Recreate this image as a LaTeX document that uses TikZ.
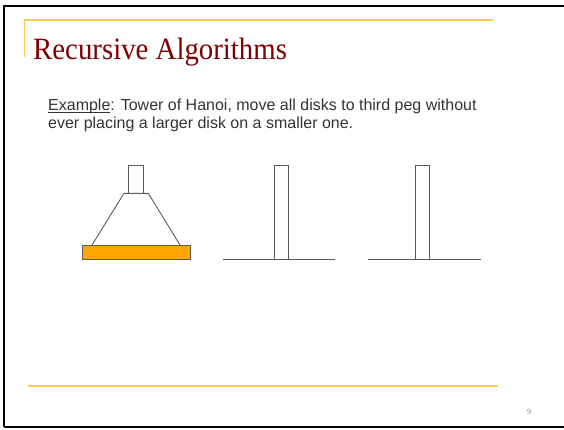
\documentclass[tikz,border=0pt]{standalone}
\usepackage{fontspec}
\setmainfont{Liberation Serif}
\newfontfamily\bodyfont{Liberation Sans}
\definecolor{titlered}{RGB}{128,0,0}
\definecolor{rulegold}{RGB}{255,200,90}
\definecolor{diskorange}{RGB}{255,165,0}
\definecolor{bodygray}{RGB}{51,51,51}
\definecolor{shapegray}{RGB}{90,90,90}
\newcommand{\ulword}[1]{\setbox0\hbox{#1}\rlap{\rule[-1.8pt]{\wd0}{0.7pt}}#1}
\begin{document}
\begin{tikzpicture}[x=1pt,y=-1pt,
  rule/.style={draw=rulegold,line width=1.6pt},
  outline/.style={draw=shapegray,line width=0.9pt},
  bodytext/.style={anchor=base west,inner sep=0pt,text=bodygray,font=\bodyfont\fontsize{16}{18}\selectfont},
]
\useasboundingbox (0,0) rectangle (564,429);
% frame
\draw[line width=2.6pt,black] (3.8,427) -- (3.8,5.8) -- (570,5.8);
\draw[line width=2.6pt,black] (3.8,427) -- (570,427);
% top rules
\draw[rule] (24.5,57) -- (24.5,20) -- (493,20);
% title
\node[anchor=base west,inner sep=0pt,text=titlered,font=\fontsize{31}{36}\selectfont] (title) at (33,59) {\scalebox{0.93}[1]{Recursive Algorithms}};
% body text
\node[bodytext] (line1) at (48,110.5) {\ulword{Example}: Tower of Hanoi, move all disks to third peg without};
\node[bodytext] (line2) at (48,128) {ever placing a larger disk on a smaller one.};
% peg 1 with disk and cone
\draw[outline,fill=diskorange] (82,245) rectangle (190,259);
\node[coordinate] (disk) at (136,252) {};
\draw[outline] (92,245) -- (124,193.3) -- (148.3,193.3) -- (180,245);
\draw[outline] (128.3,165) rectangle (143.3,193.3);
% peg 2
\draw[outline] (222.7,259) -- (335.3,259);
\draw[outline] (274.3,165) rectangle (288.7,259);
% peg 3
\draw[outline] (368.3,259) -- (480.7,259);
\draw[outline] (415,165) rectangle (429.3,259);
% bottom rule
\draw[rule] (28,386) -- (498,386);
% page number
\node[anchor=base,inner sep=0pt,text=gray,font=\fontsize{8}{9}\selectfont] (page) at (529,414) {9};
\end{tikzpicture}
\end{document}
